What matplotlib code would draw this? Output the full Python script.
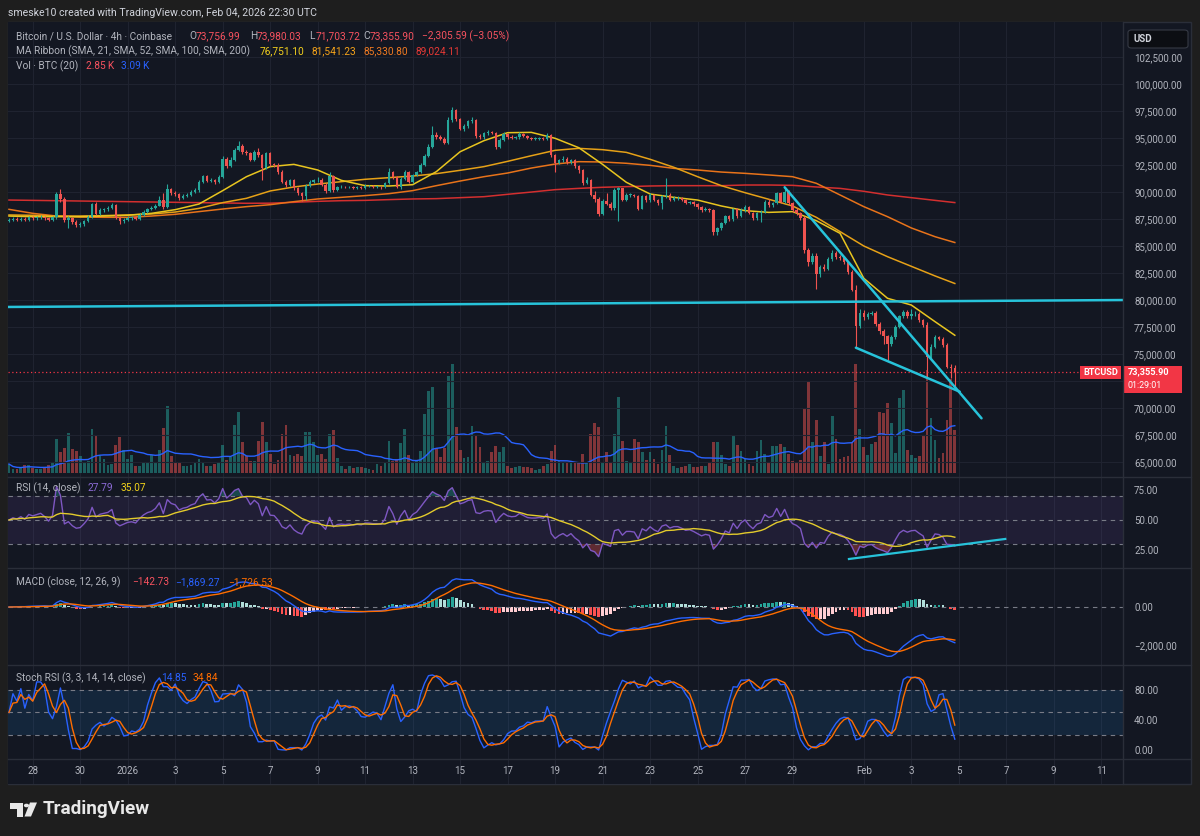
import numpy as np
import pandas as pd
import matplotlib
matplotlib.use('Agg')
import matplotlib.pyplot as plt
from matplotlib.patches import Rectangle, FancyBboxPatch, Circle, Polygon

plt.rcParams['font.family'] = ['Roboto', 'DejaVu Sans']

W, H = 1200, 836

# BTC/USD 4h (Coinbase), first bar Dec 27 2025 00:00 UTC, one row = one day
start = pd.Timestamp('2025-12-27 00:00')
first_open = 87350
closes = [
    87400, 87500, 87450, 87550, 87450, 87650,
    87600, 87650, 87700, 87600, 87450, 87650,
    89800, 89400, 87400, 87600, 87200, 86950,
    87000, 87300, 87700, 88850, 88000, 88300,
    88400, 88500, 88800, 87600, 87300, 87450,
    87600, 87650, 87550, 87900, 88200, 88400,
    88500, 88750, 89300, 88600, 90250, 89950,
    89850, 89450, 89650, 89750, 90000, 90150,
    90950, 91450, 91050, 91100, 90900, 91400,
    93100, 92400, 93000, 93900, 94300, 93700,
    93600, 93000, 93700, 93400, 92200, 93600,
    92550, 92500, 91900, 90950, 90650, 91100,
    90350, 89900, 89650, 90550, 90950, 91100,
    91150, 90650, 90100, 91500, 90150, 90450,
    90500, 90450, 90500, 90400, 90450, 90400,
    90550, 90550, 90500, 90500, 90450, 90800,
    91850, 91350, 90450, 91250, 91850, 90950,
    91550, 91850, 92500, 93300, 94200, 95300,
    95100, 94950, 94550, 96650, 97550, 96750,
    95850, 96100, 96550, 96700, 95200, 95100,
    95450, 95550, 95500, 94150, 94850, 95400,
    95100, 95000, 95050, 95400, 95200, 95000,
    94950, 94950, 95000, 94950, 95300, 93400,
    92700, 92950, 93100, 92750, 92950, 92400,
    92000, 90800, 91100, 89750, 89400, 88000,
    89200, 88900, 88500, 90200, 90350, 89300,
    89750, 89750, 89650, 88450, 89600, 89250,
    89750, 89250, 88950, 89600, 89750, 89300,
    89450, 89450, 89250, 89000, 89050, 88850,
    88600, 88350, 88450, 88350, 86350, 86650,
    87100, 87750, 87500, 88400, 87750, 88350,
    88650, 88050, 87600, 88050, 88200, 89100,
    88800, 88950, 89900, 89100, 90050, 88950,
    88300, 88050, 87600, 84650, 83500, 84100,
    82400, 83100, 82900, 83800, 84400, 84000,
    83900, 83500, 82600, 80950, 77600, 78850,
    78400, 78750, 78800, 77800, 77150, 76650,
    75950, 76550, 77550, 78500, 78900, 78500,
    78700, 78750, 78200, 77700, 74750, 75700,
    76600, 76450, 75850, 73850, 73756.99, 73355.90,
]
highs = [
    87600, 87650, 87650, 87700, 87650, 87800,
    87800, 87800, 87850, 87800, 87700, 87800,
    90000, 90300, 89500, 87800, 87700, 87400,
    87200, 87450, 87900, 89000, 89100, 88500,
    88550, 88700, 89000, 88900, 87750, 87600,
    87750, 87800, 87750, 88050, 88350, 88550,
    88700, 88900, 89600, 89900, 90700, 90400,
    90100, 89950, 89800, 89900, 90150, 90400,
    91100, 91550, 91550, 91300, 91250, 91600,
    93300, 93200, 93200, 94100, 94700, 94400,
    93850, 93700, 93900, 94100, 93500, 93750,
    93700, 92700, 92650, 92000, 91100, 91250,
    91250, 90500, 90000, 90700, 91100, 91250,
    91400, 91300, 90800, 91850, 91600, 90600,
    90650, 90600, 90600, 90600, 90550, 90550,
    90700, 90650, 90650, 90600, 90600, 90900,
    92200, 91950, 91450, 91400, 92000, 91950,
    91700, 91950, 92650, 93500, 94400, 96100,
    95600, 95250, 95050, 96900, 97900, 97650,
    96850, 96300, 96700, 96950, 96800, 95400,
    95600, 95700, 95650, 95600, 95000, 95550,
    95500, 95250, 95200, 95550, 95450, 95300,
    95100, 95050, 95100, 95100, 95450, 95350,
    93550, 93100, 93300, 93250, 93100, 93050,
    92500, 92100, 91350, 91200, 90100, 89500,
    89350, 89900, 89050, 90350, 90500, 90400,
    89900, 89900, 89850, 89750, 89750, 89700,
    89900, 89850, 89400, 89700, 91300, 89900,
    89600, 89600, 89550, 89350, 89200, 89150,
    88950, 88750, 88600, 88550, 88400, 86750,
    87250, 87900, 87900, 88550, 88500, 88500,
    88800, 88750, 88200, 88200, 88300, 89250,
    89350, 89100, 90050, 90050, 90400, 90200,
    89050, 88500, 88200, 87800, 84850, 84400,
    84350, 83250, 83300, 83950, 84600, 84550,
    84150, 84050, 83650, 82750, 81400, 79150,
    79050, 78900, 79000, 78950, 77950, 77350,
    76800, 76750, 77700, 78650, 79100, 79050,
    79150, 79000, 78900, 78300, 78000, 75900,
    76750, 76700, 76550, 76000, 74100, 73980.03,
]
lows = [
    87200, 87300, 87300, 87350, 87300, 87350,
    87450, 87450, 87500, 87450, 87300, 87350,
    87550, 89100, 87200, 86700, 87000, 86800,
    86750, 86850, 87200, 87600, 87900, 87850,
    88150, 88250, 88400, 87500, 87050, 87100,
    87300, 87450, 87400, 87450, 87800, 88100,
    88300, 88400, 88700, 88450, 88550, 89750,
    89650, 89300, 89350, 89550, 89650, 89900,
    90050, 90800, 90900, 90900, 90750, 90850,
    91300, 92250, 92300, 92900, 93800, 93550,
    93400, 92850, 92850, 93250, 91100, 92100,
    92400, 92300, 91700, 90800, 90450, 90550,
    90200, 89750, 89200, 89250, 90450, 90850,
    90950, 90550, 89950, 90000, 90050, 90100,
    90350, 90350, 90400, 90300, 90300, 90300,
    90300, 90450, 90400, 90400, 90300, 90350,
    90700, 91200, 90350, 90300, 91150, 90800,
    90850, 91450, 91750, 92400, 93200, 94100,
    94950, 94800, 94400, 94450, 96450, 96600,
    95700, 95650, 95950, 96350, 95000, 94900,
    94950, 95300, 95350, 94000, 94050, 94750,
    94950, 94900, 94900, 94950, 95050, 94900,
    94850, 94850, 94850, 94850, 94850, 93200,
    91900, 92550, 92800, 92600, 92600, 92250,
    91800, 90650, 90700, 89650, 89050, 87750,
    87850, 88800, 88300, 88350, 87300, 89150,
    89200, 89550, 89500, 88300, 88400, 89100,
    89100, 89150, 88800, 88450, 89450, 89150,
    89200, 89300, 89150, 88900, 88900, 88750,
    88450, 88200, 88250, 88200, 86050, 86050,
    86500, 87000, 87350, 87350, 87600, 87650,
    88200, 87950, 87450, 87450, 87200, 88100,
    88650, 88650, 88850, 88950, 88950, 88800,
    88200, 87900, 87400, 84400, 83150, 83300,
    81000, 82150, 82700, 82800, 83650, 83850,
    83750, 83350, 82400, 80800, 75700, 77400,
    78200, 78300, 78600, 77650, 76900, 75900,
    74500, 75800, 76400, 77400, 78350, 78350,
    78300, 78500, 78000, 77550, 72900, 74600,
    75550, 76300, 75700, 73700, 72800, 71703.72,
]
volumes = [
    594, 264, 264, 308, 528, 528, 308, 264, 264, 374, 528, 660,
    2244, 1408, 1628, 2618, 1584, 1452, 1100, 704, 814, 2904, 2464, 1100,
    924, 528, 594, 1870, 2354, 1540, 924, 1188, 440, 440, 748, 748,
    1188, 748, 1540, 2948, 4444, 1100, 748, 660, 484, 440, 528, 660,
    924, 660, 484, 440, 594, 660, 1848, 880, 1034, 3168, 4004, 2024,
    1144, 814, 814, 2134, 3388, 2024, 1254, 594, 880, 2574, 3168, 1188,
    1100, 1254, 1144, 2684, 2684, 2024, 1188, 1254, 924, 2574, 2838, 968,
    484, 264, 484, 308, 374, 374, 308, 264, 220, 594, 484, 748,
    2134, 814, 924, 1980, 2904, 1188, 748, 814, 1474, 3894, 5434, 5654,
    1628, 1034, 1628, 6424, 7194, 3014, 1540, 968, 1034, 3080, 2464, 1694,
    704, 814, 1364, 1804, 1364, 1694, 484, 308, 374, 484, 374, 374,
    308, 220, 264, 484, 594, 1474, 1848, 814, 704, 704, 704, 704,
    704, 1254, 704, 2574, 3300, 3014, 704, 1408, 704, 2574, 4994, 2134,
    814, 704, 2244, 2068, 1364, 880, 1364, 924, 594, 1540, 3124, 1188,
    440, 308, 374, 484, 594, 374, 374, 440, 484, 704, 2024, 2024,
    1200, 594, 484, 2508, 1848, 1474, 924, 594, 484, 1474, 2200, 1254,
    660, 1804, 1804, 1914, 1694, 1254, 814, 748, 880, 4224, 6094, 2068,
    3520, 1144, 2024, 594, 3784, 2244, 924, 1034, 1144, 2024, 7194, 2904,
    1694, 1188, 1914, 2024, 4004, 3960, 4620, 3300, 1320, 4950, 5500, 1540,
    1210, 990, 1100, 2420, 6800, 3630, 2200, 990, 1320, 3520, 6200, 2850,
]

# MA ribbon, read once a day at 00:00 plus the last bar
ma_dates = list(pd.date_range('2025-12-27', '2026-02-04', freq='D')) + [pd.Timestamp('2026-02-04 20:00')]
sma21 = [87780, 87720, 87720, 87720, 87780, 87850, 88030, 88370, 88890, 90130,
         91420, 92350, 92560, 92040, 91080, 90590, 90560, 90680, 91890, 93730,
         94750, 95490, 95520, 94970, 94100, 92560, 90900, 89820, 89510, 89260,
         88710, 88280, 88120, 88190, 87350, 86180, 82020, 80170, 79550, 78010, 76751.10]
sma52 = [87880, 87850, 87780, 87780, 87820, 87880, 87970, 88150, 88490, 89020,
         89420, 90100, 90470, 90740, 90960, 91180, 91330, 91480, 91700, 92010,
         92350, 92840, 93360, 93860, 94040, 93920, 93670, 93030, 92290, 91420,
         90590, 89940, 89330, 88710, 87660, 86340, 85010, 84020, 83130, 82240, 81541.23]
sma100 = [88400, 88030, 87780, 87690, 87660, 87660, 87780, 87940, 88190, 88430,
          88650, 88830, 89110, 89360, 89510, 89670, 89850, 90130, 90590, 91020,
          91420, 91760, 92220, 92590, 92810, 92780, 92660, 92470, 92190, 92040,
          91850, 91730, 91580, 91420, 90810, 89730, 88650, 87720, 86680, 85870, 85330.80]
sma200 = [89260, 89230, 89200, 89170, 89140, 89110, 89080, 89050, 89020, 88990,
          88960, 88970, 89050, 89140, 89200, 89230, 89300, 89360, 89390, 89480,
          89570, 89790, 90000, 90220, 90340, 90440, 90500, 90560, 90590, 90590,
          90590, 90650, 90650, 90620, 90470, 90340, 90070, 89730, 89480, 89230, 89024.11]

# user drawings: (time, value)
level_line = [('2025-12-26 23:00', 79370), ('2026-02-11 22:00', 80010)]
wedge_top = [('2026-01-28 16:00', 90440), ('2026-02-05 23:00', 69070)]
wedge_bottom = [('2026-01-31 16:00', 75600), ('2026-02-05 01:00', 71530)]
rsi_trend = [('2026-01-31 09:00', 17.5), ('2026-02-06 23:00', 34.2)]

tick_dates = ['2025-12-28', '2025-12-30', '2026-01-01', '2026-01-03', '2026-01-05', '2026-01-07',
              '2026-01-09', '2026-01-11', '2026-01-13', '2026-01-15', '2026-01-17', '2026-01-19',
              '2026-01-21', '2026-01-23', '2026-01-25', '2026-01-27', '2026-01-29', '2026-02-01',
              '2026-02-03', '2026-02-05', '2026-02-07', '2026-02-09', '2026-02-11']
tick_labels = ['28', '30', '2026', '3', '5', '7', '9', '11', '13', '15', '17', '19', '21',
               '23', '25', '27', '29', 'Feb', '3', '5', '7', '9', '11']
price_ticks = [65000 + 2500 * k for k in range(16)]

BG = '#131722'
OUTER = '#1e1e1e'
GRID = '#1f2330'
SEP = '#2a2e39'
TXT = '#b2b5be'
UP = '#26a69a'
DOWN = '#ef5350'
CYAN = '#27c3da'
FS = 7
LFS = 7.3


def pos(t):
    return (pd.Timestamp(t) - start) / pd.Timedelta(hours=4)


def ftext(x, y, s, color=TXT, size=LFS, **kw):
    kw.setdefault('ha', 'left')
    fig.text(x / W, 1 - y / H, s, color=color, fontsize=size, va='center', **kw)


def box(top, bottom, left=8, right=1123):
    return [left / W, 1 - bottom / H, (right - left) / W, (bottom - top) / H]


c = np.array(closes, float)
o = np.r_[first_open, c[:-1]]
hi = np.maximum(np.array(highs, float), np.maximum(o, c))
lo = np.minimum(np.array(lows, float), np.minimum(o, c))
vol = pd.Series(volumes, dtype=float)
n = len(c)
xi = np.arange(n)
cols = np.where(c >= o, UP, DOWN)

fig = plt.figure(figsize=(12, 8.36), dpi=100, facecolor=OUTER)
fig.patches.append(Rectangle((8 / W, 1 - 784 / H), 1183 / W, 762 / H, transform=fig.transFigure,
                             facecolor=BG, edgecolor=SEP, lw=1, zorder=-5))

axv = fig.add_axes(box(22, 477))
ax = fig.add_axes(box(22, 477), sharex=axv)
ax_rsi = fig.add_axes(box(477, 568), sharex=axv)
ax_macd = fig.add_axes(box(568, 665), sharex=axv)
ax_st = fig.add_axes(box(665, 759), sharex=axv)
ax_t = fig.add_axes(box(759, 784), sharex=axv)

xt = [pos(t) for t in tick_dates]
for a in [axv, ax, ax_rsi, ax_macd, ax_st, ax_t]:
    a.set_facecolor(BG)
    for s in a.spines.values():
        s.set_visible(False)
    a.tick_params(axis='x', length=0, labelbottom=False)
    a.yaxis.tick_right()
    a.tick_params(axis='y', length=0, pad=8, labelcolor=TXT, labelsize=FS)
ax.patch.set_visible(False)
axv.set_yticks([])
ax_t.set_yticks([])
axv.set_xlim(-0.25, 281.5)
axv.set_xticks(xt)
for a in [axv, ax_rsi, ax_macd, ax_st, ax_t]:
    a.grid(axis='x', color=GRID, lw=0.8)
    a.set_axisbelow(True)

# --- price pane (a scale label hidden under the last-price tag is left out)
ax.set_ylim(63640, 105730)
ax.set_yticks(price_ticks)
ax.set_yticklabels(['' if abs(p - c[-1]) < 1200 else f'{p:,.2f}' for p in price_ticks])
ax.grid(axis='y', color=GRID, lw=0.8, zorder=0)

axv.set_ylim(-264, 29766)
axv.bar(xi, vol, width=0.7, color=cols, alpha=0.5, lw=0)
axv.plot(xi, vol.rolling(20, min_periods=1).mean(), color='#2962ff', lw=1)

ma_x = [pos(t) for t in ma_dates]
ax.plot(ma_x, sma200, color='#d32f2f', lw=1.1, zorder=2)
ax.plot(ma_x, sma100, color='#e8731a', lw=1.1, zorder=2)
ax.plot(ma_x, sma52, color='#e6a117', lw=1.1, zorder=2)
ax.plot(ma_x, sma21, color='#e8c51f', lw=1.1, zorder=2)

body = np.maximum(np.abs(c - o), 25)
ax.vlines(xi, lo, hi, colors=cols, lw=0.8, zorder=3)
ax.bar(xi, body, bottom=np.minimum(o, c), width=0.62, color=cols, lw=0, zorder=4)

ax.axhline(c[-1], xmax=(1080 - 8) / 1115, color='#f23645', lw=0.9, ls=(0, (1, 2)), zorder=3)
for line in [level_line, wedge_top, wedge_bottom]:
    ax.plot([pos(p[0]) for p in line], [p[1] for p in line], color=CYAN, lw=1.8, zorder=5,
            solid_capstyle='round')

# --- RSI pane (Wilder smoothing, started from a neutral state)
delta = np.diff(c, prepend=c[0])
avg_g, avg_l = 110.0, 110.0
rsi_vals = []
for dv in delta:
    avg_g = (avg_g * 13 + max(dv, 0)) / 14
    avg_l = (avg_l * 13 + max(-dv, 0)) / 14
    rsi_vals.append(100 - 100 / (1 + avg_g / avg_l))
rsi = pd.Series(rsi_vals)
rsi_ma = rsi.rolling(14, min_periods=1).mean()

ax_rsi.set_ylim(10, 85.83)
ax_rsi.set_yticks([25, 50, 75])
ax_rsi.set_yticklabels(['25.00', '50.00', '75.00'])
ax_rsi.axhspan(30, 70, color='#7e57c2', alpha=0.12, lw=0)
for lvl in [30, 50, 70]:
    ax_rsi.axhline(lvl, color='#787b86', lw=0.8, ls=(0, (4, 4)))
ax_rsi.fill_between(xi, 70, rsi, where=rsi > 70, color='#26a69a', alpha=0.35, lw=0, interpolate=True)
ax_rsi.fill_between(xi, 30, rsi, where=rsi < 30, color='#ef5350', alpha=0.35, lw=0, interpolate=True)
ax_rsi.plot(xi, rsi, color='#7e57c2', lw=1)
ax_rsi.plot(xi, rsi_ma, color='#e3cb2c', lw=1)
ax_rsi.plot([pos(p[0]) for p in rsi_trend], [p[1] for p in rsi_trend], color=CYAN, lw=1.6)

# --- MACD pane
s = pd.Series(c)
ema12 = s.ewm(span=12, adjust=False).mean()
ema26 = s.ewm(span=26, adjust=False).mean()
macd = ema12 - ema26
signal = macd.ewm(span=9, adjust=False).mean()
hist = (macd - signal).values
prev = np.r_[0, hist[:-1]]
hcols = np.where(hist >= 0, np.where(hist > prev, '#26a69a', '#b2dfdb'),
                 np.where(hist < prev, '#ff5252', '#ffcdd2'))
ax_macd.set_ylim(-3053, 2053)
ax_macd.set_yticks([-2000, 0])
ax_macd.set_yticklabels(['\u22122,000.00', '0.00'])
ax_macd.axhline(0, color='#787b86', lw=0.8, ls=(0, (4, 4)))
ax_macd.bar(xi, hist, width=0.7, color=hcols, lw=0)
ax_macd.plot(xi, macd, color='#2962ff', lw=1)
ax_macd.plot(xi, signal, color='#ff6d00', lw=1)

# --- Stoch RSI pane
lo14 = rsi.rolling(14, min_periods=1).min()
hi14 = rsi.rolling(14, min_periods=1).max()
st = (100 * (rsi - lo14) / (hi14 - lo14).replace(0, np.nan)).fillna(50)
k = st.rolling(3, min_periods=1).mean()
dline = k.rolling(3, min_periods=1).mean()
ax_st.set_ylim(-12, 113.3)
ax_st.set_yticks([0, 40, 80])
ax_st.set_yticklabels(['0.00', '40.00', '80.00'])
ax_st.axhspan(20, 80, color='#2196f3', alpha=0.12, lw=0)
for lvl in [20, 50, 80]:
    ax_st.axhline(lvl, color='#787b86', lw=0.8, ls=(0, (4, 4)))
ax_st.plot(xi, k, color='#2962ff', lw=1)
ax_st.plot(xi, dline, color='#ff6d00', lw=1)

# --- time scale
for xv, lab in zip(xt, tick_labels):
    ax_t.text(xv, 0.5, lab, transform=ax_t.get_xaxis_transform(), color=TXT, fontsize=FS,
              ha='center', va='center')

# pane separators
for yy in [477, 568, 665, 759]:
    fig.add_artist(plt.Line2D([8 / W, 1191 / W], [1 - yy / H] * 2, color=SEP, lw=1))
fig.add_artist(plt.Line2D([1123 / W] * 2, [1 - 22 / H, 1 - 784 / H], color=SEP, lw=1))

# --- header and legends
ftext(8, 13, 'smeske10 created with TradingView.com, Feb 04, 2026 22:30 UTC', color='#d1d4dc', size=7.6)
RED = '#f7525f'
ftext(16, 36, 'Bitcoin / U.S. Dollar \u00b7 4h \u00b7 Coinbase')
for x, lab, val in [(189, 'O', '73,756.99'), (250, 'H', '73,980.03'), (309, 'L', '71,703.72'),
                    (363, 'C', '73,355.90')]:
    ftext(x, 36, lab)
    ftext(x + 7, 36, val, color=RED)
ftext(422, 36, '\u22122,305.59 (\u22123.05%)', color=RED)
ftext(16, 51, 'MA Ribbon (SMA, 21, SMA, 52, SMA, 100, SMA, 200)')
ftext(260, 51, '76,751.10', color='#f2cf1d')
ftext(312, 51, '81,541.23', color='#f5a31a')
ftext(364, 51, '85,330.80', color='#f07a21')
ftext(416, 51, '89,024.11', color='#e53935')
ftext(16, 66, 'Vol \u00b7 BTC (20)')
ftext(86, 66, '2.85\u2009K', color=RED)
ftext(121, 66, '3.09\u2009K', color='#2962ff')

ftext(16, 488, 'RSI (14, close)')
ftext(88, 488, '27.79', color='#8c6bd6')
ftext(121, 488, '35.07', color='#f2d31b')
ftext(16, 582, 'MACD (close, 12, 26, 9)')
ftext(132, 582, '\u2212142.73', color=RED)
ftext(175, 582, '\u22121,869.27', color='#2962ff')
ftext(228, 582, '\u22121,726.53', color='#ff6d00')
ftext(16, 678, 'Stoch RSI (3, 3, 14, 14, close)')
ftext(161, 678, '14.85', color='#2962ff')
ftext(193, 678, '34.84', color='#ff6d00')

# USD box
fig.patches.append(FancyBboxPatch((1128 / W, 1 - 48 / H), 60 / W, 18 / H, transform=fig.transFigure,
                                  boxstyle='round,pad=0,rounding_size=0.003', facecolor='#0c0e13',
                                  edgecolor='#363a45', lw=0.8))
ftext(1133, 39, 'USD', color='#d1d4dc', size=FS, weight='bold')

# last price labels
fig.patches.append(Rectangle((1080 / W, 1 - 379 / H), 41 / W, 13 / H, transform=fig.transFigure,
                             facecolor='#f23645', lw=0))
ftext(1100.5, 372.5, 'BTCUSD', color='white', size=6.6, weight='bold', ha='center')
fig.patches.append(Rectangle((1123 / W, 1 - 393 / H), 59 / W, 27 / H, transform=fig.transFigure,
                             facecolor='#f23645', lw=0))
ftext(1128, 372, '73,355.90', color='white', size=6.6, weight='bold')
ftext(1128, 385.5, '01:29:01', color='white', size=6.4)

# TradingView logo
fig.patches.append(Polygon([(10 / W, 1 - 802.5 / H), (23 / W, 1 - 802.5 / H), (23 / W, 1 - 816.5 / H),
                            (16.5 / W, 1 - 816.5 / H), (16.5 / W, 1 - 808.5 / H), (10 / W, 1 - 808.5 / H)],
                           closed=True, transform=fig.transFigure, facecolor='#e8e8e8', lw=0))
fig.patches.append(Circle((26.5 / W, 1 - 805.5 / H), 2.6 / W, transform=fig.transFigure,
                          facecolor='#e8e8e8', lw=0))
fig.patches.append(Polygon([(30 / W, 1 - 802.5 / H), (37 / W, 1 - 802.5 / H), (31 / W, 1 - 816.5 / H),
                            (24.5 / W, 1 - 816.5 / H)], closed=True, transform=fig.transFigure,
                           facecolor='#e8e8e8', lw=0))
ftext(43, 809.5, 'TradingView', color='#e8e8e8', size=13.6, weight='bold')

fig.savefig('out.png', dpi=100, facecolor=OUTER)
